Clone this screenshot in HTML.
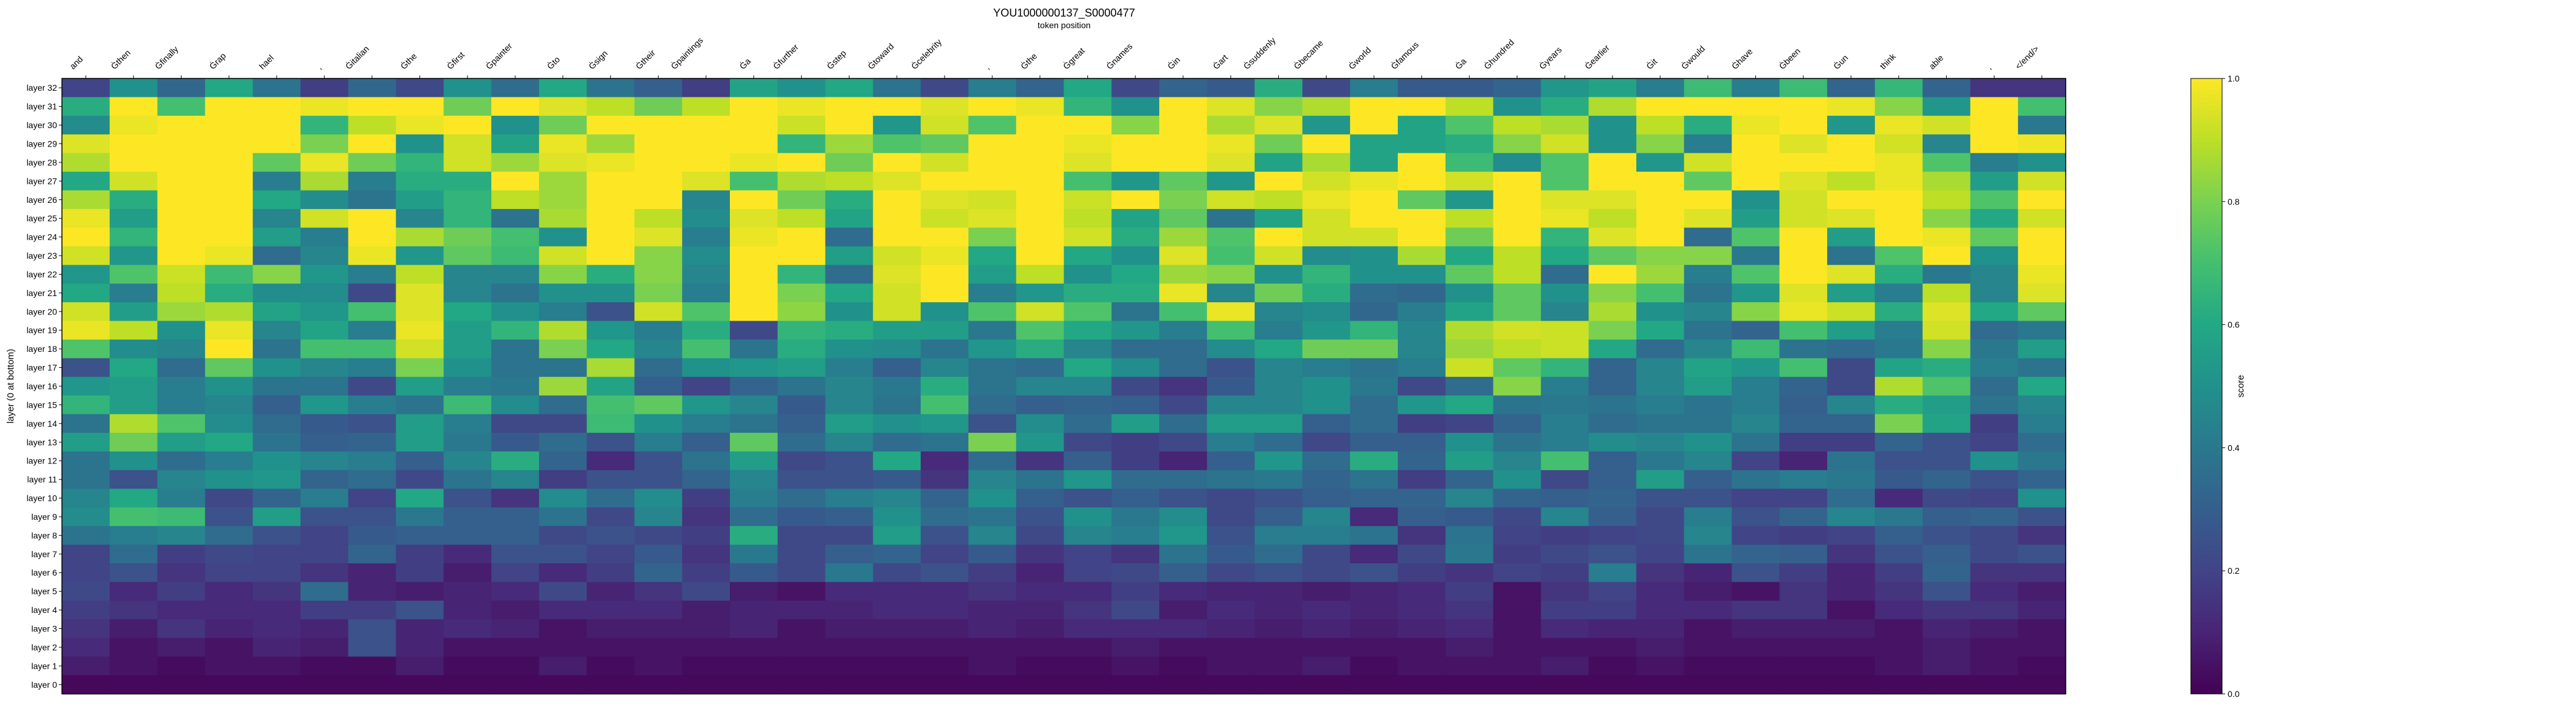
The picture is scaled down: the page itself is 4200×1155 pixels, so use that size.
<!DOCTYPE html>
<html><head><meta charset="utf-8">
<style>
html,body{margin:0;padding:0;background:#fff;}
svg{display:block;font-family:"Liberation Sans","DejaVu Sans",sans-serif;}
</style></head>
<body>
<svg id="chart" width="4200" height="1155" viewBox="0 0 4200 1155" xmlns="http://www.w3.org/2000/svg">
<defs>
<linearGradient id="vir" x1="0" y1="1" x2="0" y2="0">
<stop offset="0" stop-color="#440154"/><stop offset="0.1" stop-color="#482475"/><stop offset="0.2" stop-color="#414487"/><stop offset="0.3" stop-color="#355f8d"/><stop offset="0.4" stop-color="#2a788e"/><stop offset="0.5" stop-color="#21918c"/><stop offset="0.6" stop-color="#22a884"/><stop offset="0.7" stop-color="#44bf70"/><stop offset="0.8" stop-color="#7ad151"/><stop offset="0.9" stop-color="#bddf26"/><stop offset="1" stop-color="#fde725"/>
</linearGradient>
</defs>
<text x="1735" y="27" font-size="18" text-anchor="middle">YOU1000000137_S0000477</text>
<text x="1735" y="46" font-size="14" text-anchor="middle">token position</text>
<text x="0" y="0" font-size="15" text-anchor="middle" transform="translate(22,630) rotate(-90)">layer (0 at bottom)</text>
<g id="cells"></g>
<g id="xt"></g>
<g id="yt"></g>
<rect x="101" y="128" width="3267" height="1004" fill="none" stroke="#000" stroke-width="1.5"/>
<rect x="3572" y="128" width="51" height="1004" fill="url(#vir)" stroke="#000" stroke-width="1"/>
<g id="cb"></g>
<text x="0" y="0" font-size="15" text-anchor="middle" transform="translate(3658,630) rotate(-90)">score</text>
</svg>
<script>
const tokens=["and","Ġthen","Ġfinally","Ġrap","hael",",","Ġitalian","Ġthe","Ġfirst","Ġpainter","Ġto","Ġsign","Ġtheir","Ġpaintings","Ġa","Ġfurther","Ġstep","Ġtoward","Ġcelebrity",",","Ġthe","Ġgreat","Ġnames","Ġin","Ġart","Ġsuddenly","Ġbecame","Ġworld","Ġfamous","Ġa","Ġhundred","Ġyears","Ġearlier","Ġit","Ġwould","Ġhave","Ġbeen","Ġun","think","able",",","</end/>"];
const cbTicks=[0,0.2,0.4,0.6,0.8,1.0];
// rows listed from layer 32 (top) to layer 0 (bottom)
const L32=[0.2,0.5,0.33,0.6,0.38,0.18,0.33,0.22,0.5,0.35,0.6,0.38,0.3,0.18,0.58,0.5,0.6,0.38,0.22,0.42,0.32,0.6,0.22,0.32,0.28,0.62,0.22,0.42,0.28,0.28,0.32,0.52,0.58,0.42,0.68,0.42,0.68,0.32,0.66,0.32,0.15,0.15];
const L31=[0.62,1,0.7,1,1,0.97,1,1,0.78,1,0.95,0.9,0.78,0.9,1,0.97,1,1,0.95,1,0.97,0.65,0.5,1,0.95,0.82,0.88,1,1,0.9,0.5,0.62,0.88,1,1,1,1,0.97,0.82,0.52,1,0.7];
const L30=[0.48,0.97,1,1,1,0.65,0.9,0.97,1,0.5,0.78,1,1,1,1,0.92,1,0.52,0.93,0.72,1,1,0.82,1,0.87,0.95,0.52,1,0.58,0.72,0.9,0.87,0.5,0.9,0.62,0.97,1,0.52,0.97,0.93,1,0.4];
const L29=[0.95,1,1,1,1,0.8,1,0.5,0.93,0.58,0.97,0.85,1,1,1,0.65,0.85,0.72,0.75,1,1,0.97,1,1,0.97,0.78,1,0.58,0.58,0.62,0.82,0.93,0.5,0.82,0.42,1,0.95,1,0.93,0.45,1,0.98];
const L28=[0.88,1,1,1,0.75,0.97,0.78,0.65,0.93,0.85,0.95,0.97,1,1,0.97,1,0.78,1,0.93,1,1,0.95,1,1,0.95,0.58,0.87,0.58,1,0.68,0.48,0.72,1,0.52,0.93,1,1,1,0.97,0.72,0.42,0.5];
const L27=[0.6,0.93,1,1,0.42,0.87,0.42,0.62,0.62,1,0.85,1,1,0.95,0.7,0.88,0.9,0.95,1,1,1,0.7,0.52,0.75,0.52,1,0.93,0.97,1,0.93,1,0.72,1,1,0.75,1,0.95,0.9,0.97,0.87,0.55,0.93];
const L26=[0.87,0.62,1,1,0.6,0.48,0.38,0.55,0.65,0.9,0.85,1,1,0.45,1,0.78,0.62,1,0.95,0.93,1,0.92,1,0.8,0.93,0.9,0.97,1,0.75,0.52,1,0.95,0.95,1,1,0.5,0.93,1,1,0.9,0.72,1];
const L25=[0.97,0.55,1,1,0.45,0.93,1,0.45,0.65,0.38,0.87,1,0.9,0.48,0.95,0.9,0.58,1,0.92,0.95,1,0.9,0.58,0.75,0.38,0.58,0.93,1,1,0.9,1,0.97,0.9,1,0.95,0.55,0.93,0.95,1,0.82,0.6,0.93];
const L24=[1,0.65,1,1,0.55,0.42,1,0.87,0.78,0.7,0.5,1,0.95,0.42,0.97,1,0.35,1,1,0.8,1,0.93,0.62,0.85,0.72,1,0.93,0.93,1,0.78,1,0.65,0.95,1,0.35,0.72,1,0.55,1,0.97,0.75,1];
const L23=[0.93,0.52,1,0.97,0.35,0.45,0.97,0.52,0.75,0.68,0.93,1,0.82,0.48,1,1,0.55,0.93,0.97,0.6,1,0.6,0.5,0.95,0.7,0.93,0.48,0.5,0.87,0.6,0.9,0.6,0.75,0.82,0.82,0.4,1,0.38,0.72,1,0.5,1];
const L22=[0.52,0.72,0.92,0.68,0.82,0.52,0.42,0.9,0.45,0.45,0.82,0.62,0.82,0.45,1,0.65,0.35,0.95,1,0.55,0.9,0.5,0.6,0.85,0.82,0.5,0.65,0.5,0.5,0.75,0.9,0.35,1,0.85,0.42,0.72,1,0.95,0.62,0.4,0.45,0.97];
const L21=[0.6,0.42,0.9,0.62,0.48,0.48,0.22,0.95,0.45,0.38,0.5,0.5,0.8,0.42,1,0.8,0.6,0.93,1,0.42,0.52,0.62,0.62,0.97,0.45,0.78,0.62,0.35,0.33,0.5,0.75,0.5,0.82,0.7,0.38,0.52,0.95,0.55,0.42,0.9,0.45,0.95];
const L20=[0.93,0.55,0.85,0.88,0.58,0.52,0.7,0.95,0.6,0.5,0.42,0.25,0.93,0.72,1,0.83,0.5,0.93,0.5,0.72,0.93,0.72,0.38,0.7,0.97,0.45,0.48,0.33,0.42,0.58,0.75,0.45,0.87,0.5,0.45,0.82,0.97,0.92,0.62,0.95,0.6,0.75];
const L19=[0.97,0.9,0.5,0.97,0.45,0.58,0.42,0.97,0.55,0.65,0.88,0.52,0.42,0.62,0.22,0.65,0.62,0.55,0.55,0.4,0.72,0.6,0.52,0.42,0.7,0.42,0.52,0.65,0.45,0.88,0.93,0.92,0.8,0.6,0.38,0.32,0.7,0.55,0.42,0.93,0.35,0.4];
const L18=[0.72,0.48,0.45,1,0.38,0.7,0.7,0.93,0.55,0.38,0.8,0.6,0.45,0.7,0.38,0.62,0.5,0.48,0.38,0.52,0.62,0.45,0.35,0.35,0.48,0.6,0.78,0.78,0.45,0.85,0.9,0.92,0.6,0.35,0.45,0.68,0.38,0.35,0.4,0.82,0.4,0.55];
const L17=[0.25,0.6,0.35,0.75,0.5,0.45,0.42,0.8,0.5,0.38,0.38,0.87,0.35,0.5,0.52,0.55,0.42,0.3,0.45,0.38,0.35,0.6,0.48,0.35,0.25,0.45,0.42,0.38,0.42,0.92,0.75,0.65,0.32,0.45,0.58,0.52,0.7,0.22,0.58,0.62,0.42,0.38];
const L16=[0.52,0.55,0.42,0.5,0.38,0.38,0.22,0.55,0.42,0.4,0.85,0.58,0.3,0.2,0.32,0.38,0.45,0.4,0.62,0.38,0.45,0.45,0.22,0.15,0.28,0.45,0.5,0.4,0.22,0.35,0.82,0.42,0.32,0.45,0.55,0.42,0.32,0.22,0.88,0.72,0.35,0.6];
const L15=[0.65,0.55,0.42,0.45,0.3,0.52,0.42,0.38,0.68,0.48,0.35,0.7,0.75,0.52,0.45,0.28,0.45,0.38,0.7,0.35,0.3,0.32,0.3,0.22,0.45,0.45,0.5,0.35,0.52,0.6,0.38,0.4,0.38,0.42,0.38,0.42,0.3,0.45,0.62,0.55,0.38,0.45];
const L14=[0.38,0.88,0.72,0.48,0.35,0.28,0.25,0.55,0.42,0.22,0.22,0.68,0.5,0.42,0.38,0.3,0.55,0.5,0.52,0.25,0.48,0.35,0.55,0.35,0.55,0.55,0.3,0.35,0.18,0.2,0.32,0.42,0.35,0.38,0.38,0.45,0.32,0.32,0.8,0.58,0.18,0.42];
const L13=[0.55,0.78,0.55,0.6,0.38,0.3,0.32,0.55,0.4,0.28,0.35,0.25,0.42,0.3,0.75,0.35,0.45,0.35,0.38,0.8,0.52,0.22,0.18,0.22,0.42,0.35,0.22,0.3,0.3,0.5,0.38,0.42,0.48,0.45,0.5,0.38,0.18,0.18,0.32,0.25,0.2,0.35];
const L12=[0.38,0.5,0.35,0.42,0.5,0.45,0.42,0.3,0.45,0.62,0.32,0.12,0.25,0.38,0.55,0.22,0.25,0.6,0.12,0.35,0.15,0.3,0.18,0.1,0.3,0.52,0.35,0.62,0.32,0.55,0.45,0.7,0.3,0.4,0.45,0.2,0.1,0.38,0.25,0.25,0.5,0.4];
const L11=[0.38,0.25,0.45,0.5,0.52,0.32,0.35,0.22,0.38,0.45,0.18,0.25,0.25,0.32,0.45,0.25,0.25,0.28,0.15,0.45,0.38,0.52,0.35,0.35,0.38,0.4,0.32,0.38,0.18,0.32,0.5,0.22,0.3,0.55,0.3,0.38,0.42,0.4,0.28,0.32,0.25,0.32];
const L10=[0.45,0.6,0.42,0.22,0.32,0.42,0.2,0.6,0.25,0.15,0.48,0.35,0.48,0.18,0.42,0.35,0.42,0.45,0.32,0.5,0.3,0.25,0.3,0.25,0.22,0.25,0.3,0.32,0.32,0.45,0.32,0.3,0.32,0.25,0.25,0.2,0.2,0.35,0.12,0.22,0.2,0.5];
const L9=[0.48,0.7,0.68,0.25,0.55,0.25,0.25,0.4,0.3,0.3,0.38,0.22,0.45,0.15,0.35,0.28,0.3,0.5,0.35,0.38,0.25,0.5,0.4,0.48,0.22,0.3,0.45,0.12,0.3,0.28,0.22,0.45,0.3,0.22,0.42,0.25,0.32,0.45,0.4,0.3,0.32,0.25];
const L8=[0.38,0.42,0.45,0.35,0.25,0.2,0.28,0.3,0.3,0.3,0.22,0.25,0.22,0.18,0.62,0.22,0.22,0.55,0.25,0.45,0.22,0.45,0.42,0.52,0.25,0.42,0.42,0.38,0.15,0.38,0.2,0.18,0.2,0.22,0.45,0.2,0.18,0.2,0.3,0.25,0.22,0.15];
const L7=[0.2,0.35,0.18,0.22,0.2,0.2,0.32,0.18,0.12,0.25,0.25,0.2,0.28,0.15,0.4,0.22,0.3,0.32,0.2,0.28,0.15,0.2,0.15,0.38,0.28,0.35,0.22,0.12,0.22,0.4,0.18,0.22,0.25,0.2,0.38,0.32,0.3,0.15,0.25,0.3,0.22,0.25];
const L6=[0.2,0.25,0.15,0.2,0.2,0.15,0.1,0.18,0.08,0.2,0.12,0.18,0.32,0.18,0.28,0.22,0.4,0.22,0.25,0.18,0.1,0.2,0.22,0.3,0.22,0.25,0.22,0.25,0.18,0.15,0.2,0.18,0.42,0.15,0.1,0.25,0.18,0.1,0.18,0.32,0.15,0.15];
const L5=[0.22,0.12,0.18,0.12,0.15,0.35,0.1,0.08,0.1,0.12,0.22,0.1,0.15,0.22,0.08,0.05,0.12,0.12,0.12,0.15,0.12,0.12,0.18,0.12,0.1,0.1,0.08,0.1,0.12,0.18,0.05,0.15,0.2,0.12,0.08,0.05,0.15,0.1,0.15,0.25,0.12,0.08];
const L4=[0.18,0.15,0.12,0.12,0.12,0.18,0.18,0.25,0.1,0.08,0.12,0.12,0.12,0.08,0.1,0.1,0.1,0.12,0.12,0.1,0.1,0.15,0.22,0.08,0.12,0.1,0.12,0.1,0.12,0.15,0.05,0.18,0.18,0.12,0.12,0.15,0.15,0.05,0.12,0.15,0.15,0.1];
const L3=[0.15,0.08,0.15,0.1,0.12,0.1,0.25,0.1,0.12,0.1,0.05,0.08,0.08,0.08,0.1,0.05,0.08,0.08,0.08,0.1,0.08,0.12,0.12,0.12,0.1,0.08,0.1,0.08,0.1,0.12,0.05,0.12,0.1,0.1,0.05,0.08,0.08,0.08,0.05,0.1,0.08,0.05];
const L2=[0.12,0.05,0.08,0.05,0.1,0.08,0.25,0.1,0.05,0.05,0.05,0.05,0.05,0.05,0.05,0.05,0.05,0.05,0.05,0.05,0.05,0.05,0.08,0.05,0.05,0.05,0.05,0.05,0.05,0.08,0.05,0.05,0.05,0.08,0.05,0.05,0.05,0.05,0.05,0.08,0.05,0.05];
const L1=[0.08,0.05,0.03,0.05,0.05,0.03,0.03,0.08,0.03,0.03,0.08,0.03,0.05,0.03,0.03,0.03,0.03,0.03,0.03,0.05,0.03,0.03,0.05,0.03,0.05,0.05,0.08,0.03,0.05,0.05,0.05,0.08,0.03,0.05,0.03,0.03,0.03,0.03,0.05,0.08,0.05,0.03];
const L0=[0.02,0.02,0.02,0.02,0.02,0.02,0.02,0.02,0.02,0.02,0.02,0.02,0.02,0.02,0.02,0.02,0.02,0.02,0.02,0.02,0.02,0.02,0.02,0.02,0.02,0.02,0.02,0.02,0.02,0.02,0.02,0.02,0.02,0.02,0.02,0.02,0.02,0.02,0.02,0.02,0.02,0.02];
const rows=[L32,L31,L30,L29,L28,L27,L26,L25,L24,L23,L22,L21,L20,L19,L18,L17,L16,L15,L14,L13,L12,L11,L10,L9,L8,L7,L6,L5,L4,L3,L2,L1,L0];

const NS="http://www.w3.org/2000/svg";
const PX=101,PY=128,PW=3267,PH=1004;
const nC=tokens.length,nR=rows.length;
const cw=PW/nC,rh=PH/nR;
function xPos(i){return PX+i*cw;}
function yPos(r){return PY+r*rh;}
function cbY(v){return PY+PH*(1-v);}
const vs=[[68,1,84],[72,36,117],[65,68,135],[53,95,141],[42,120,142],[33,145,140],[34,168,132],[68,191,112],[122,209,81],[189,223,38],[253,231,37]];
function vir(v){v=Math.max(0,Math.min(1,v));const t=v*10,i=Math.min(9,Math.floor(t)),f=t-i;const a=vs[i],b=vs[i+1];return `rgb(${Math.round(a[0]+(b[0]-a[0])*f)},${Math.round(a[1]+(b[1]-a[1])*f)},${Math.round(a[2]+(b[2]-a[2])*f)})`;}
const cells=document.getElementById('cells');
rows.forEach((row,r)=>{row.forEach((v,c)=>{
 const el=document.createElementNS(NS,'rect');
 el.setAttribute('x',xPos(c));el.setAttribute('y',yPos(r));
 el.setAttribute('width',cw+0.6);el.setAttribute('height',rh+0.6);
 el.setAttribute('fill',vir(v));
 
 
 cells.appendChild(el);
});});
const xt=document.getElementById('xt');
tokens.forEach((t,i)=>{
 const cx=xPos(i)+cw/2;
 const tk=document.createElementNS(NS,'line');
 tk.setAttribute('x1',cx);tk.setAttribute('x2',cx);tk.setAttribute('y1',PY-5);tk.setAttribute('y2',PY);tk.setAttribute('stroke','#000');
 
 
 xt.appendChild(tk);
 const tx=document.createElementNS(NS,'text');
 tx.textContent=t;tx.setAttribute('font-size','14');
 
 
 xt.appendChild(tx);
 const L=tx.getComputedTextLength();
 const x0=cx-L*0.7071-4,y0=PY-14;
 tx.setAttribute('transform',`translate(${x0},${y0}) rotate(-45)`);
});
const yt=document.getElementById('yt');
for(let r=0;r<nR;r++){
 const cy=yPos(r)+rh/2;
 const tk=document.createElementNS(NS,'line');
 tk.setAttribute('x1',PX-5);tk.setAttribute('x2',PX);tk.setAttribute('y1',cy);tk.setAttribute('y2',cy);tk.setAttribute('stroke','#000');
 
 
 yt.appendChild(tk);
 const tx=document.createElementNS(NS,'text');
 tx.textContent='layer '+(nR-1-r);
 tx.setAttribute('x',PX-8);tx.setAttribute('y',cy+5);tx.setAttribute('font-size','14');tx.setAttribute('text-anchor','end');
 
 
 yt.appendChild(tx);
}
const cb=document.getElementById('cb');
cbTicks.forEach(v=>{
 const y=cbY(v);
 const tk=document.createElementNS(NS,'line');
 tk.setAttribute('x1',3623);tk.setAttribute('x2',3628);tk.setAttribute('y1',y);tk.setAttribute('y2',y);tk.setAttribute('stroke','#000');
 
 
 cb.appendChild(tk);
 const tx=document.createElementNS(NS,'text');
 tx.textContent=v.toFixed(1);
 tx.setAttribute('x',3632);tx.setAttribute('y',y+5);tx.setAttribute('font-size','14');
 
 
 cb.appendChild(tx);
});
</script>
</body></html>
